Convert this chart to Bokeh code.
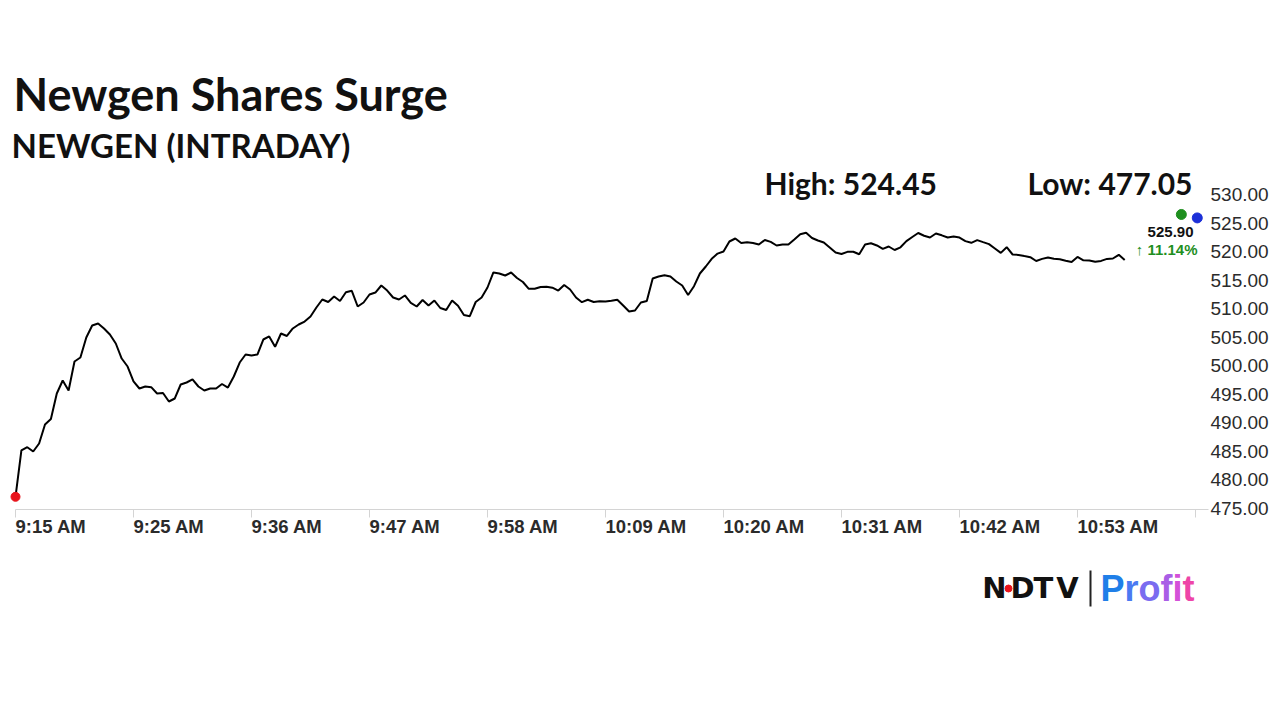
from bokeh.plotting import figure
from bokeh.models import Range1d, FixedTicker, Label, NumeralTickFormatter
from bokeh.layouts import column
from bokeh.core.properties import value
from bokeh.embed import file_html
from bokeh.resources import INLINE

# ---------------- data ----------------
title_text = "Newgen Shares Surge"
subtitle_text = "NEWGEN (INTRADAY)"

prices = [
    477.05, 485.16, 485.74, 484.98, 486.39, 489.71, 490.68, 495.14, 497.42, 495.67,
    500.75, 501.45, 504.95, 507.05, 507.40, 506.53, 505.48, 503.90, 501.27, 499.87,
    497.25, 496.02, 496.37, 496.25, 495.14, 495.23, 493.74, 494.27, 496.72, 497.07,
    497.60, 496.37, 495.67, 496.02, 496.02, 496.81, 496.19, 498.12, 500.57, 501.97,
    501.80, 501.97, 504.60, 505.13, 503.32, 505.65, 505.22, 506.53, 507.23, 507.75,
    508.63, 510.21, 511.61, 511.17, 512.13, 511.35, 512.89, 513.13, 510.38, 511.08,
    512.48, 512.83, 514.06, 513.18, 511.96, 511.61, 512.31, 511.00, 510.38, 511.52,
    510.56, 511.43, 510.12, 509.77, 511.43, 510.51, 508.89, 508.68, 511.17, 511.96,
    513.71, 516.34, 516.16, 515.81, 516.34, 515.37, 514.67, 513.48, 513.48, 513.80,
    513.85, 513.68, 513.18, 514.15, 513.36, 511.96, 511.14, 511.56, 511.17, 511.29,
    511.26, 511.38, 511.56, 510.56, 509.51, 509.68, 511.08, 511.35, 515.29, 515.64,
    515.86, 515.64, 514.76, 514.06, 512.40, 513.94, 516.16, 517.39, 518.74, 519.65,
    520.02, 521.77, 522.29, 521.50, 521.65, 521.50, 521.24, 522.03, 521.70, 521.07,
    521.24, 521.24, 522.12, 523.03, 523.29, 522.38, 521.94, 521.59, 520.72, 519.84,
    519.58, 519.96, 519.98, 519.54, 521.26, 521.45, 521.07, 520.47, 520.89, 520.28,
    520.75, 521.84, 522.56, 523.26, 522.78, 522.47, 523.17, 522.85, 522.47, 522.64,
    522.45, 521.84, 521.54, 522.00, 521.65, 521.31, 520.54, 519.77, 520.77, 519.49,
    519.42, 519.21, 519.02, 518.35, 518.72, 518.98, 518.74, 518.65, 518.39, 518.19,
    519.07, 518.47, 518.44, 518.21, 518.37, 518.72, 518.79, 519.44, 518.53,
]
index = list(range(len(prices)))

tick_index = [0, 20, 40, 60, 80, 100, 120, 140, 160, 180, 200]
tick_labels = ["9:15 AM", "9:25 AM", "9:36 AM", "9:47 AM", "9:58 AM", "10:09 AM",
               "10:20 AM", "10:31 AM", "10:42 AM", "10:53 AM", ""]
y_ticks = [475, 480, 485, 490, 495, 500, 505, 510, 515, 520, 525, 530]

day_high = 524.45
day_low = 477.05
last_price = 525.90
change_pct = 11.14
marker_index = [197.6, 200.3]
marker_values = [526.5, 525.9]
marker_colors = ["#1f8f1f", "#1c30d8"]

logo_left = ["N", "D", "T", "V"]
logo_right = list("Profit")
profit_colors = ["#1f7fe8", "#4a7af2", "#7a6cf0", "#a95ee6", "#d451d8", "#ee45a8"]

# ---------------- layout constants ----------------
W = 1280
H_MAIN = 560
H_LOGO = 720 - H_MAIN
FRAME_BOTTOM = 509           # canvas y of frame bottom
RIGHT_BORDER = 72
FRAME_W = W - RIGHT_BORDER
PX_PER_IDX = 5.9
PX_PER_UNIT = 314 / 55.0
x0 = -15 / PX_PER_IDX
x1 = x0 + FRAME_W / PX_PER_IDX
y0 = 475 - 1 / PX_PER_UNIT
y1 = y0 + FRAME_BOTTOM / PX_PER_UNIT

p = figure(width=W, height=H_MAIN, x_range=Range1d(x0, x1), y_range=Range1d(y0, y1),
           y_axis_location="right", output_backend="svg", toolbar_location=None,
           min_border_left=0, min_border_right=RIGHT_BORDER, min_border_top=0,
           min_border_bottom=H_MAIN - FRAME_BOTTOM, title=None)
p.outline_line_color = None
p.xgrid.visible = False
p.ygrid.visible = False
p.background_fill_color = "white"
p.border_fill_color = "white"

# x axis
xa = p.xaxis[0]
xa.ticker = FixedTicker(ticks=tick_index)
xa.major_label_overrides = {t: l for t, l in zip(tick_index, tick_labels)}
xa.bounds = (0, x1)
xa.axis_line_color = "#d4d4d4"
xa.axis_line_width = 1
xa.major_tick_line_color = "#d4d4d4"
xa.major_tick_out = 8
xa.major_tick_in = 0
xa.minor_tick_line_color = None
xa.major_label_standoff = 9
xa.major_label_orientation = -0.0001
xa.major_label_text_font = "Liberation Sans"
xa.major_label_text_font_style = "bold"
xa.major_label_text_font_size = "18.5px"
xa.major_label_text_color = "#2b2b2b"

# y axis (right)
ya = p.yaxis[0]
ya.ticker = FixedTicker(ticks=y_ticks)
ya.formatter = NumeralTickFormatter(format="0.00")
ya.axis_line_color = None
ya.major_tick_line_color = None
ya.minor_tick_line_color = None
ya.major_tick_out = 0
ya.major_tick_in = 0
ya.major_label_standoff = 2
ya.major_label_text_font = "Liberation Sans"
ya.major_label_text_font_size = "19px"
ya.major_label_text_color = "#2b2b2b"

# price line
p.line(index, prices, line_color="black", line_width=2)
p.scatter([index[0]], [prices[0]], size=9, color="#e8141c")
p.scatter(marker_index, marker_values, size=10, color=marker_colors)


def lab(text, cx, cy, size, font="Lato", style="bold", color="#111111", align="left"):
    # cy is the desired baseline in canvas pixels
    p.add_layout(Label(x=cx, y=FRAME_BOTTOM - cy + 0.4 * size, x_units="screen",
                       y_units="screen", text=text, text_font=font,
                       text_font_style=style, text_font_size=f"{size}px",
                       text_color=color, text_align=align, text_baseline="alphabetic"))


lab(title_text, 13, 111, 45)
lab(subtitle_text, 11, 158, 33)
lab(f"High: {day_high:.2f}", 764, 194, 30)
lab(f"Low: {day_low:.2f}", 1027, 194, 30)
lab(f"{last_price:.2f}", 1193, 237, 15, font="Liberation Sans", align="right")
lab(f"\u2191 {change_pct:.2f}%", 1197, 255, 15, font="Liberation Sans", color="#1f8f1f",
    align="right")

# ---------------- logo strip ----------------
q = figure(width=W, height=H_LOGO, x_range=Range1d(0, FRAME_W), y_range=Range1d(H_LOGO, 0),
           output_backend="svg", toolbar_location=None, min_border_left=0,
           min_border_right=RIGHT_BORDER, min_border_top=0, min_border_bottom=0,
           x_axis_type=None, y_axis_type=None, title=None)
q.outline_line_color = None
q.xgrid.visible = False
q.ygrid.visible = False
q.background_fill_color = "white"
q.border_fill_color = "white"

q.text(x=[994, 1022, 1043, 1067], y=[38 - 0.35 * 29] * 4, text=logo_left,
       text_font=value("DejaVu Sans"), text_font_style="bold", text_font_size="29px",
       text_color="#111111", text_align="center", text_baseline="alphabetic")
q.scatter([1008], [28], size=7, color="#e8141c")
q.segment(x0=[1090], y0=[10], x1=[1090], y1=[46], line_color="#222222", line_width=2)
q.text(x=[1100, 1124, 1138, 1160, 1172, 1182], y=[41 - 0.36 * 36] * 6, text=logo_right,
       text_font=value("Liberation Sans"), text_font_style="bold", text_font_size="36px",
       text_color=profit_colors, text_align="left", text_baseline="alphabetic")

open("out.html", "w").write(file_html(column(p, q), INLINE))
